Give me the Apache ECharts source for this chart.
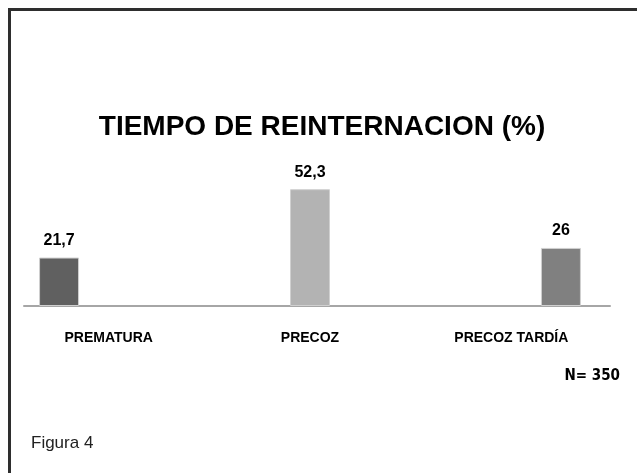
<!DOCTYPE html>
<html>
<head>
<meta charset="utf-8">
<script src="https://cdn.jsdelivr.net/npm/echarts@6/dist/echarts.min.js"></script>
<style>
  html, body { margin: 0; padding: 0; background: #fff; }
  #frame {
    position: absolute; left: 8px; top: 8px; right: 0; bottom: 0;
    border-top: 3px solid #2e2e2e; border-left: 3px solid #2e2e2e;
  }
  #chart { position: absolute; left: 0; top: 0; width: 637px; height: 473px; }
</style>
</head>
<body>
<div id="frame"></div>
<div id="chart"></div>
<script>
// datos del gráfico
const categorias = ['PREMATURA', 'PRECOZ', 'PRECOZ TARDÍA'];
const seriesNombres = ['Prematura', 'Precoz', 'Precoz tardía'];
const valores = [21.7, 52.3, 26];
const colores = ['#606060', '#b3b3b3', '#808080'];

const chart = echarts.init(document.getElementById('chart'));

// cada serie solo tiene valor en su categoría
const series = seriesNombres.map((nombre, i) => ({
  name: nombre,
  type: 'bar',
  xAxisIndex: 0,
  yAxisIndex: 0,
  barWidth: 40,
  barGap: '24%',
  data: categorias.map((c, j) => (j === i ? valores[i] : '-')),
  itemStyle: { color: colores[i], borderColor: '#d0d0d0', borderWidth: 1 },
  label: {
    show: true,
    position: 'top',
    distance: 9,
    color: '#000',
    fontFamily: 'Liberation Sans',
    fontWeight: 'bold',
    fontSize: 16,
    formatter: p => String(p.value).replace('.', ',')
  }
}));

const option = {
  animation: false,
  backgroundColor: 'transparent',
  title: [
    {
      text: 'TIEMPO DE REINTERNACION (%)',
      left: 317,
      top: 108,
      textAlign: 'center',
      textStyle: {
        fontFamily: 'Liberation Sans',
        fontWeight: 'bold',
        fontSize: 28,
        color: '#000'
      }
    },
    {
      text: 'N= 350',
      right: 12,
      top: 364,
      textStyle: {
        fontFamily: 'DejaVu Sans Condensed',
        fontWeight: 'bold',
        fontSize: 15,
        color: '#000'
      }
    },
    {
      text: 'Figura 4',
      left: 26,
      top: 430,
      textStyle: {
        fontFamily: 'Liberation Sans',
        fontWeight: 'normal',
        fontSize: 17,
        color: '#222'
      }
    }
  ],
  grid: [
    { left: 8, right: 25, top: 172, bottom: 167 },
    { left: 24, right: 27, top: 172, bottom: 167 }
  ],
  xAxis: [
    {
      type: 'category',
      gridIndex: 0,
      data: categorias,
      axisLine: { show: false },
      axisTick: { show: false },
      axisLabel: {
        margin: 25,
        color: '#000',
        fontFamily: 'Liberation Sans',
        fontWeight: 'bold',
        fontSize: 14
      }
    },
    {
      type: 'value',
      gridIndex: 1,
      min: 0,
      max: 1,
      axisLine: { show: true, lineStyle: { color: '#a6a6a6', width: 2 } },
      axisTick: { show: false },
      axisLabel: { show: false },
      splitLine: { show: false }
    }
  ],
  yAxis: [
    { type: 'value', gridIndex: 0, min: 0, max: 60, show: false },
    { type: 'value', gridIndex: 1, min: 0, max: 1, show: false }
  ],
  series: series
};

chart.setOption(option);
</script>
</body>
</html>
